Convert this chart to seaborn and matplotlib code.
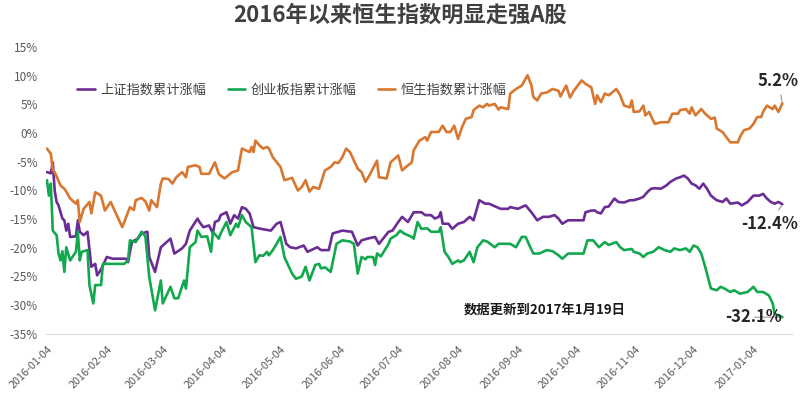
import pandas as pd
import seaborn as sns
import matplotlib.pyplot as plt

# calendar days since 2016-01-04 and cumulative change (%)
sse_days = [0, 2, 3, 4, 5, 6, 8, 9, 10, 11,
            12, 15, 16, 17, 19, 21, 23, 25, 26, 28,
            31, 34, 41, 42, 44, 47, 49, 52, 53, 56,
            59, 62, 64, 66, 70, 72, 74, 78, 79, 81,
            84, 86, 87, 89, 90, 93, 95, 97, 99, 101,
            103, 105, 107, 111, 116, 119, 121, 124, 126, 129,
            133, 135, 140, 142, 146, 148, 151, 153, 158, 161,
            163, 166, 170, 172, 177, 179, 182, 184, 187, 190,
            194, 196, 199, 201, 203, 204, 205, 208, 210, 213,
            216, 219, 221, 224, 227, 229, 233, 235, 239, 240,
            244, 248, 251, 254, 257, 260, 263, 265, 267, 270,
            275, 278, 279, 282, 284, 285, 287, 289, 291, 294,
            296, 299, 302, 304, 307, 309, 311, 313, 315, 318,
            321, 323, 326, 328, 330, 332, 334, 336, 338, 340,
            342, 344, 347, 350, 352, 354, 358, 360, 363, 366,
            369, 371, 373, 375, 377, 379, 381]
sse_vals = [-6.8, -7.0, -5.1, -10.0, -12.0, -12.6, -14.9, -15.2, -17.0, -15.8,
            -18.1, -18.0, -15.2, -17.2, -17.8, -17.2, -23.3, -22.8, -24.8, -23.8,
            -21.6, -21.9, -21.9, -22.5, -19.0, -18.4, -17.5, -17.2, -21.6, -24.2,
            -19.9, -19.0, -18.4, -21.0, -20.1, -19.3, -17.0, -14.9, -15.5, -16.4,
            -16.1, -17.5, -15.5, -15.2, -14.3, -13.8, -15.8, -14.3, -14.9, -12.9,
            -13.2, -14.0, -16.4, -16.7, -17.0, -15.8, -15.5, -19.3, -19.9, -20.1,
            -19.6, -20.7, -19.9, -20.4, -20.4, -17.5, -17.2, -17.0, -17.2, -19.6,
            -18.7, -18.4, -18.1, -19.3, -17.2, -17.0, -15.5, -14.6, -15.5, -13.8,
            -13.8, -14.3, -14.3, -14.9, -14.6, -13.8, -15.8, -15.8, -16.7, -15.8,
            -15.5, -14.6, -15.2, -11.7, -12.3, -12.3, -12.9, -13.2, -13.2, -12.9,
            -13.2, -12.6, -13.8, -15.2, -14.6, -14.6, -14.3, -14.9, -15.8, -15.2,
            -15.2, -15.2, -13.8, -13.5, -13.5, -13.8, -14.0, -12.9, -12.8, -11.4,
            -12.0, -12.1, -11.7, -11.7, -11.4, -11.1, -10.3, -9.7, -9.6, -9.7,
            -9.1, -8.5, -7.9, -7.7, -7.4, -7.9, -8.8, -9.1, -9.7, -8.8,
            -9.7, -10.9, -11.7, -12.0, -11.4, -12.3, -12.1, -12.6, -12.0, -10.9,
            -10.9, -10.6, -11.4, -12.0, -12.3, -12.0, -12.4]

gem_days = [0, 1, 2, 3, 5, 6, 7, 8, 9, 10,
            12, 15, 16, 17, 18, 21, 22, 24, 25, 28,
            29, 40, 42, 43, 46, 49, 51, 53, 56, 59,
            60, 64, 66, 68, 71, 72, 74, 77, 78, 80,
            83, 85, 86, 89, 90, 93, 95, 98, 99, 101,
            103, 106, 108, 110, 112, 114, 115, 117, 119, 121,
            123, 127, 129, 132, 134, 136, 139, 141, 142, 144,
            147, 150, 153, 157, 159, 161, 163, 165, 166, 169,
            170, 171, 173, 177, 178, 181, 183, 185, 189, 190,
            192, 194, 197, 199, 203, 204, 206, 208, 210, 213,
            214, 216, 219, 221, 223, 226, 228, 232, 234, 240,
            243, 246, 248, 250, 252, 255, 259, 262, 265, 267,
            270, 278, 280, 283, 286, 289, 291, 295, 297, 299,
            303, 304, 307, 309, 311, 314, 317, 320, 323, 325,
            328, 331, 333, 335, 337, 339, 341, 344, 347, 349,
            351, 354, 356, 359, 363, 366, 368, 371, 374, 376,
            377, 379, 381]
gem_vals = [-8.2, -10.9, -8.8, -17.0, -17.8, -21.0, -22.2, -20.6, -24.2, -19.9,
            -22.2, -20.7, -17.2, -22.2, -20.7, -20.4, -26.5, -29.7, -26.5, -26.5,
            -22.8, -22.8, -22.2, -18.7, -19.0, -17.2, -18.0, -25.1, -30.9, -25.7,
            -29.7, -26.8, -28.8, -28.8, -25.7, -27.1, -19.9, -19.0, -17.0, -18.1,
            -18.0, -20.7, -17.2, -18.4, -17.5, -15.5, -17.8, -15.8, -16.4, -14.3,
            -15.5, -16.4, -22.5, -21.3, -21.4, -20.7, -21.3, -20.4, -19.3, -18.1,
            -21.6, -24.5, -25.4, -25.0, -23.3, -25.7, -23.0, -22.8, -23.6, -23.4,
            -24.2, -19.3, -18.7, -18.9, -19.3, -24.5, -21.6, -22.0, -21.6, -21.6,
            -23.0, -21.0, -21.5, -19.3, -18.4, -17.8, -17.0, -17.5, -18.1, -18.4,
            -15.5, -16.7, -16.6, -17.2, -17.2, -16.4, -20.7, -21.6, -22.8, -22.2,
            -22.5, -22.2, -20.7, -22.5, -19.9, -18.7, -18.9, -19.9, -19.3, -19.3,
            -19.9, -18.1, -18.1, -19.6, -21.0, -21.0, -20.4, -20.6, -21.3, -21.9,
            -21.0, -21.0, -18.7, -18.7, -19.9, -19.0, -19.5, -19.0, -19.9, -20.4,
            -20.2, -20.7, -21.0, -21.6, -21.0, -20.7, -19.9, -20.4, -20.7, -20.1,
            -20.4, -20.1, -20.7, -19.6, -19.9, -21.0, -23.3, -27.1, -27.4, -26.8,
            -27.1, -27.7, -27.4, -28.0, -27.7, -26.8, -27.7, -27.7, -28.3, -29.7,
            -31.5, -31.8, -32.1]

hsi_days = [0, 2, 3, 4, 7, 9, 10, 12, 15, 16,
            17, 19, 22, 23, 25, 28, 30, 33, 39, 43,
            45, 46, 49, 51, 53, 54, 57, 59, 60, 63,
            65, 67, 70, 72, 73, 77, 79, 80, 84, 87,
            89, 90, 92, 96, 99, 101, 103, 105, 106, 107,
            108, 110, 112, 114, 115, 117, 121, 123, 127, 130,
            132, 134, 136, 138, 141, 144, 147, 149, 151, 153,
            155, 157, 161, 163, 165, 167, 171, 172, 176, 178,
            182, 184, 186, 189, 190, 193, 196, 197, 199, 203,
            205, 207, 209, 211, 213, 215, 217, 220, 221, 224,
            226, 228, 229, 232, 234, 235, 239, 240, 243, 246,
            247, 249, 251, 252, 254, 256, 259, 262, 265, 266,
            269, 271, 273, 277, 279, 282, 284, 285, 287, 289,
            291, 295, 297, 299, 302, 303, 304, 307, 309, 310,
            312, 314, 315, 318, 322, 324, 327, 328, 331, 333,
            334, 336, 339, 341, 344, 346, 347, 350, 352, 354,
            358, 359, 361, 364, 366, 368, 370, 371, 373, 376,
            377, 379, 381]
hsi_vals = [-2.7, -3.6, -6.5, -6.8, -9.1, -9.7, -10.2, -11.4, -12.3, -11.7,
            -15.5, -13.2, -12.0, -14.0, -10.3, -10.9, -13.5, -12.0, -16.4, -12.9,
            -13.4, -11.7, -11.3, -11.9, -13.5, -11.7, -12.9, -8.8, -7.9, -8.0,
            -8.8, -7.7, -6.8, -7.7, -5.9, -5.6, -5.9, -7.1, -7.1, -5.1,
            -7.1, -7.4, -7.9, -6.8, -6.5, -2.7, -3.0, -3.3, -2.4, -3.3,
            -1.3, -2.1, -2.7, -2.4, -2.7, -4.2, -5.9, -8.2, -7.8, -10.0,
            -9.4, -8.2, -10.2, -9.4, -9.7, -6.5, -5.9, -5.1, -5.2, -4.2,
            -2.7, -3.3, -6.2, -6.8, -8.5, -7.4, -4.8, -7.7, -7.9, -5.1,
            -3.9, -6.5, -5.9, -5.1, -3.0, -1.3, -0.7, -1.3, 0.2, 0.2,
            1.3, 0.2, 0.2, 1.3, -1.0, 1.0, 2.5, 2.8, 4.0, 4.8,
            4.5, 5.1, 4.8, 5.1, 4.1, 4.5, 4.2, 6.9, 7.7, 8.3,
            8.9, 10.1, 8.3, 6.3, 5.7, 6.9, 7.1, 7.7, 7.4, 6.4,
            8.3, 6.2, 7.4, 9.2, 8.6, 8.0, 5.1, 6.6, 5.4, 6.9,
            6.6, 7.7, 6.6, 4.8, 4.5, 5.7, 3.7, 3.8, 4.8, 3.1,
            3.7, 2.2, 1.6, 1.9, 1.9, 3.4, 3.4, 4.0, 4.2, 3.4,
            4.5, 3.1, 4.2, 3.4, 2.5, 2.7, 0.8, 0.2, -0.7, -1.6,
            -1.6, -0.7, 0.5, 0.8, 1.6, 2.8, 2.8, 3.7, 4.8, 4.2,
            4.8, 3.7, 5.2]

names = ['上证指数累计涨幅', '创业板指累计涨幅', '恒生指数累计涨幅']
colors = ['#6B2D95', '#12A84E', '#D8772F']
start = pd.Timestamp('2016-01-04')

frames = []
for name, days, vals in zip(names, [sse_days, gem_days, hsi_days], [sse_vals, gem_vals, hsi_vals]):
    frames.append(pd.DataFrame({'date': start + pd.to_timedelta(days, unit='D'),
                                'value': vals, 'series': name}))
df = pd.concat(frames, ignore_index=True)

sns.set_style('white')
plt.rcParams['font.family'] = ['Noto Sans CJK SC', 'DejaVu Sans']

fig = plt.figure(figsize=(8, 3.96), dpi=100)
ax = fig.add_axes([0.0575, 0.157, 0.9325, 0.724])

sns.lineplot(data=df, x='date', y='value', hue='series', hue_order=names,
             palette=colors, linewidth=1.9, ax=ax)

ax.set_ylim(-35, 15)
ax.set_yticks(range(-35, 16, 5))
ax.set_yticklabels([f'{v}%' for v in range(-35, 16, 5)])
ax.set_xlim(start - pd.Timedelta(days=0.5), start + pd.Timedelta(days=386))
ticks = pd.date_range('2016-01-04', periods=13, freq=pd.DateOffset(months=1))
ax.set_xticks(ticks)
ax.set_xticklabels([t.strftime('%Y-%m-%d') for t in ticks], rotation=45,
                   ha='right', va='top', rotation_mode='anchor')
ax.tick_params(axis='x', colors='#595959', labelsize=7.8, length=4,
               direction='out', color='#D9D9D9', pad=3)
ax.tick_params(axis='y', colors='#595959', labelsize=8.5, length=0, pad=6)
ax.set_xlabel('')
ax.set_ylabel('')
for s in ['top', 'right', 'left']:
    ax.spines[s].set_visible(False)
ax.spines['bottom'].set_color('#D9D9D9')

ax.legend(loc='center', bbox_to_anchor=(0.33, 0.85), ncol=3, frameon=False,
          fontsize=9.5, handlelength=1.3, handletextpad=0.45, columnspacing=1.6,
          labelcolor='#404040')

# end-point labels with thin leader lines
ends = [(hsi_days[-1], hsi_vals[-1], (-3, 16)),
        (sse_days[-1], sse_vals[-1], (-9, -14)),
        (gem_days[-1], gem_vals[-1], (-21, 0))]
for d, v, off in ends:
    ax.annotate(f'{v}%', xy=(start + pd.Timedelta(days=d), v), xytext=off,
                textcoords='offset points', ha='center', va='center',
                fontsize=12, fontweight='bold', color='#262626',
                arrowprops=dict(arrowstyle='-', color='#8C8C8C', lw=0.7,
                                shrinkA=1, shrinkB=1))

ax.text(0.669, 0.084, '数据更新到2017年1月19日', transform=ax.transAxes,
        ha='center', va='center', fontsize=9.6, fontweight='bold', color='#1A1A1A')

fig.text(0.5, 1 - 15 / 396, '2016年以来恒生指数明显走强A股', ha='center', va='center',
         fontsize=16, fontweight='bold', color='#404040')

fig.savefig('out.png', dpi=100)
